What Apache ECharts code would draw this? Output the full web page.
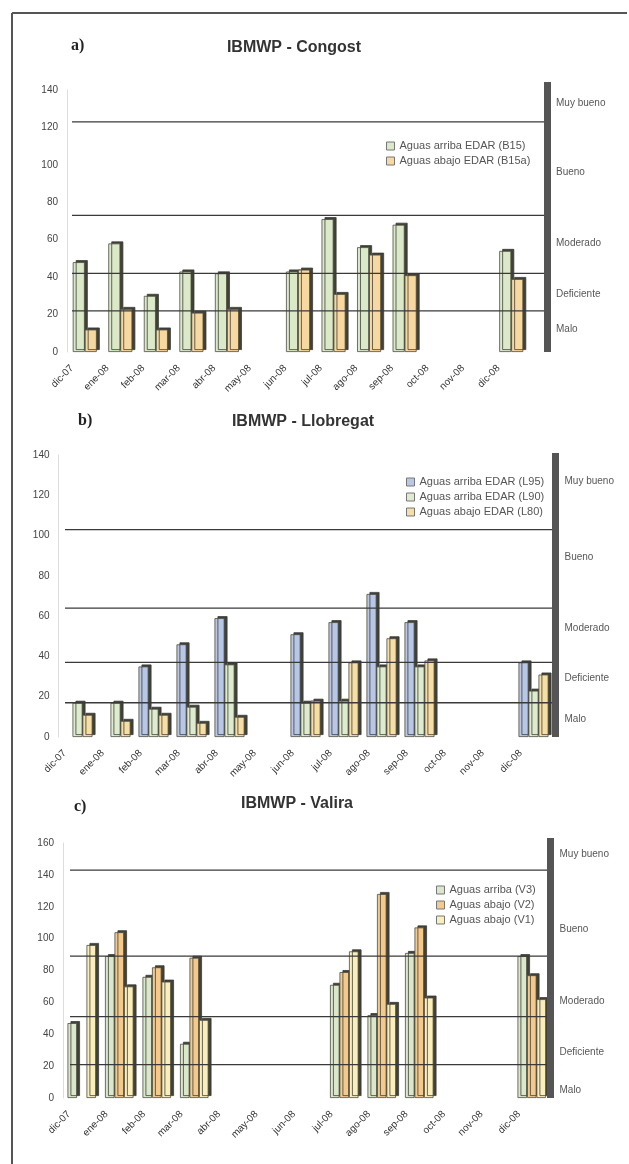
<!DOCTYPE html>
<html>
<head>
<meta charset="utf-8">
<script src="https://cdn.jsdelivr.net/npm/echarts@6/dist/echarts.min.js"></script>
<style>
html,body{margin:0;padding:0;background:#fff;}
#chart{width:629px;height:1164px;}
</style>
</head>
<body>
<div id="chart"></div>
<script>
// ---------- DATA ----------
const months = ['dic-07','ene-08','feb-08','mar-08','abr-08','may-08','jun-08','jul-08','ago-08','sep-08','oct-08','nov-08','dic-08'];
const statusNames = ['Muy bueno','Bueno','Moderado','Deficiente','Malo'];

// a) Congost
const congostNames = ['Aguas arriba EDAR (B15)','Aguas abajo EDAR (B15a)'];
const congostB15  = [48, 58, 30, 43, 42, null, 43, 71, 56, 68, null, null, 54];
const congostB15a = [12, 23, 12, 21, 23, null, 44, 31, 52, 41, null, null, 39];
const congostThresholds = [123, 73, 42, 22];
const congostStatusAt = [133, 96, 58, 31, 12];
const congostYMax = 140;

// b) Llobregat
const llobregatNames = ['Aguas arriba EDAR (L95)','Aguas arriba EDAR (L90)','Aguas abajo EDAR (L80)'];
const llobregatL95 = [null, null, 35, 46, 59, null, 51, 57, 71, 57, null, null, 37];
const llobregatL90 = [17, 17, 14, 15, 36, null, 17, 18, 35, 35, null, null, 23];
const llobregatL80 = [11, 8, 11, 7, 10, null, 18, 37, 49, 38, null, null, 31];
const llobregatThresholds = [103, 64, 37, 17];
const llobregatStatusAt = [127, 89, 54, 29, 9];
const llobregatYMax = 140;

// c) Valira
const valiraNames = ['Aguas arriba (V3)','Aguas abajo (V2)','Aguas abajo (V1)'];
const valiraV3 = [47, 89, 76, 34, null, null, null, 71, 52, 91, null, null, 89];
const valiraV2 = [null, 104, 82, 88, null, null, null, 79, 128, 107, null, null, 77];
const valiraV1 = [96, 70, 73, 49, null, null, null, 92, 59, 63, null, null, 62];
const valiraThresholds = [143, 89, 51, 21];
const valiraStatusAt = [153, 106, 61, 29, 5];
const valiraYMax = 160;

// ---------- LAYOUT / STYLE ----------
const panels = [
  {tag:'a)', title:'IBMWP - Congost', yMax:congostYMax, thresholds:congostThresholds, statusAt:congostStatusAt,
   series:[{name:congostNames[0], data:congostB15, color:'#dbe9c9'},
           {name:congostNames[1], data:congostB15a, color:'#f7d8a0'}],
   bars:{left:67, top:90, width:462, height:262}, lines:{left:72, top:82, width:475, height:270},
   barWidth:12, legend:{left:386, top:140.5}, tagPos:{left:71, top:38}, titlePos:{left:294, top:40}, legendTextWidth:200},
  {tag:'b)', title:'IBMWP - Llobregat', yMax:llobregatYMax, thresholds:llobregatThresholds, statusAt:llobregatStatusAt,
   series:[{name:llobregatNames[0], data:llobregatL95, color:'#b9c7e7'},
           {name:llobregatNames[1], data:llobregatL90, color:'#deebcf'},
           {name:llobregatNames[2], data:llobregatL80, color:'#f6dea6'}],
   bars:{left:58.5, top:455, width:494, height:282}, lines:{left:65, top:453, width:490.5, height:284},
   barWidth:10, legend:{left:406, top:476.5}, tagPos:{left:78, top:413}, titlePos:{left:303, top:414}, legendTextWidth:128},
  {tag:'c)', title:'IBMWP - Valira', yMax:valiraYMax, thresholds:valiraThresholds, statusAt:valiraStatusAt,
   series:[{name:valiraNames[0], data:valiraV3, color:'#dbe7ca'},
           {name:valiraNames[1], data:valiraV2, color:'#f4c98c'},
           {name:valiraNames[2], data:valiraV1, color:'#fbeebd'}],
   bars:{left:63, top:843, width:487.5, height:255}, lines:{left:70, top:838, width:480.5, height:260},
   barWidth:9.5, legend:{left:436, top:884.5}, tagPos:{left:74, top:799}, titlePos:{left:297, top:796}, legendTextWidth:200}
];

const FONT = '"Liberation Sans", Arial, sans-serif';
const grid = [], xAxis = [], yAxis = [], series = [], legend = [], title = [];

panels.forEach((p, i) => {
  const gb = 2*i, gl = 2*i + 1;
  const linesMax = p.yMax * p.lines.height / p.bars.height;
  grid.push(Object.assign({containLabel:false}, p.bars));
  grid.push(Object.assign({containLabel:false}, p.lines));

  xAxis.push({type:'category', gridIndex:gb, data:months,
    axisLine:{show:false}, axisTick:{show:false},
    axisLabel:{interval:0, rotate:45, margin:2, padding:[0,18,0,0], fontSize:10, color:'#333', fontFamily:FONT}});
  xAxis.push({type:'value', gridIndex:gl, min:0, max:1, show:false});

  yAxis.push({type:'value', gridIndex:gb, min:0, max:p.yMax, interval:20,
    splitLine:{show:false}, axisTick:{show:false},
    axisLine:{show:true, onZero:false, lineStyle:{color:'#dddddd', width:1}},
    axisLabel:{fontSize:10, color:'#444', margin:9, fontFamily:FONT}});
  yAxis.push({type:'value', gridIndex:gl, position:'right', min:0, max:linesMax, z:5,
    splitLine:{show:false}, axisTick:{show:false}, axisLabel:{show:false},
    axisLine:{show:true, onZero:false, lineStyle:{color:'#555555', width:7, cap:'butt'}}});

  p.series.forEach(s => {
    series.push({type:'bar', name:s.name, data:s.data, xAxisIndex:gb, yAxisIndex:gb,
      barWidth:p.barWidth, barGap:'0%', z:2,
      itemStyle:{color:s.color, borderColor:'#4c4c40', borderWidth:0.8,
        shadowColor:'rgba(55,55,50,0.95)', shadowBlur:0, shadowOffsetX:3, shadowOffsetY:-2},
      emphasis:{disabled:true}});
  });

  p.thresholds.forEach(t => {
    series.push({type:'line', xAxisIndex:gl, yAxisIndex:gl, data:[[0,t],[1,t]],
      symbol:'none', silent:true, z:3, lineStyle:{color:'#3a3a3a', width:1.3}});
  });

  series.push({type:'scatter', xAxisIndex:gl, yAxisIndex:gl, symbolSize:0, silent:true, clip:false, z:4,
    data:p.statusAt.map((v,k) => ({name:statusNames[k], value:[1, v]})),
    label:{show:true, position:'right', distance:9, formatter:'{b}', fontSize:10, color:'#2a2a2a', fontFamily:FONT}});

  legend.push({data:p.series.map(s => s.name), orient:'vertical', left:p.legend.left, top:p.legend.top,
    padding:0, itemGap:4, itemWidth:8, itemHeight:8, icon:'rect', selectedMode:false,
    itemStyle:{borderColor:'#777', borderWidth:1, shadowBlur:0, shadowOffsetX:0, shadowOffsetY:0, shadowColor:'rgba(0,0,0,0)'},
    textStyle:{fontSize:11, color:'#555', lineHeight:11, fontFamily:FONT,
      width:p.legendTextWidth, overflow:'truncate', ellipsis:''}});

  title.push({text:p.tag, left:p.tagPos.left, top:p.tagPos.top, padding:0,
    textStyle:{fontFamily:'"Liberation Serif", "Times New Roman", serif', fontWeight:'bold', fontSize:16, color:'#222'}});
  title.push({text:p.title, left:p.titlePos.left, top:p.titlePos.top, textAlign:'center', padding:0,
    textStyle:{fontFamily:FONT, fontWeight:'bold', fontSize:16, color:'#333'}});
});

const chart = echarts.init(document.getElementById('chart'), null, {renderer:'canvas'});
chart.setOption({
  backgroundColor:'#ffffff',
  animation:false,
  title, grid, xAxis, yAxis, series, legend,
  graphic:[
    {type:'line', shape:{x1:12, y1:13, x2:12, y2:1164}, style:{stroke:'#555', lineWidth:2}},
    {type:'line', shape:{x1:12, y1:13, x2:627, y2:13}, style:{stroke:'#555', lineWidth:2}}
  ]
});
</script>
</body>
</html>
